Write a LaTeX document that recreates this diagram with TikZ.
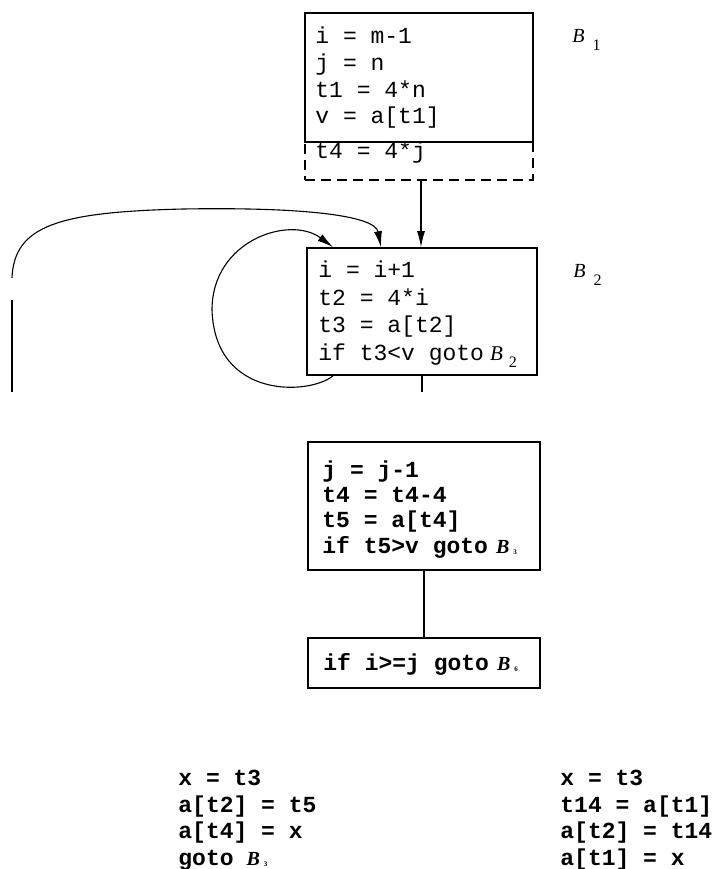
\documentclass[tikz,border=0pt]{standalone}
\usepackage{fontspec}
\setmainfont{Liberation Serif}
\setmonofont{Liberation Mono}
\usetikzlibrary{arrows.meta}
\newcommand{\lblB}[1]{{\rmfamily\itshape\fontsize{10}{12}\selectfont B}\hspace{4pt}\raisebox{-4pt}{\rmfamily\fontsize{8}{8}\selectfont #1}}
\newcommand{\inB}[1]{\hspace{3pt}{\rmfamily\itshape\fontsize{10.5}{12}\selectfont B}\hspace{3pt}\raisebox{-3.5pt}{\rmfamily\fontsize{8}{8}\selectfont #1}}
\newcommand{\bldB}[2]{\hspace{#2}{\rmfamily\bfseries\itshape\fontsize{10}{12}\selectfont B}\hspace{2pt}\raisebox{-0.5pt}{\rmfamily\fontsize{3.5}{4}\selectfont #1}}
\begin{document}
\begin{tikzpicture}[x=0.5pt,y=-0.5pt,
  box/.style={draw, line width=0.8pt, inner sep=0pt},
  dbox/.style={draw, dashed, dash pattern=on 5pt off 3pt, line width=0.6pt, inner sep=0pt},
  code/.style={anchor=base west, inner sep=0pt, font=\ttfamily\fontsize{11.5}{13}\selectfont},
  bcode/.style={anchor=base west, inner sep=0pt, font=\ttfamily\bfseries\fontsize{11.5}{13}\selectfont},
  lab/.style={anchor=base west, inner sep=0pt},
  conn/.style={line width=0.55pt},
  arr/.style={conn, -{Latex[length=8pt,width=4pt]}}]
\useasboundingbox[fill=white] (0,0) rectangle (712,869);

% B1 block
\node[dbox, minimum width=114pt, minimum height=19pt] (b1x) at (419,161) {};
\node[box, fill=white, minimum width=114pt, minimum height=64.5pt] (b1) at (419,77.5) {};
\node[code] (l11) at (315,43) {i = m-1};
\node[code] (l12) at (315,70) {j = n};
\node[code] (l13) at (315,97) {t1 = 4*n};
\node[code] (l14) at (315,123) {v = a[t1]};
\node[code] (l15) at (315,158) {t4 = 4*j};
\node[lab] (lb1) at (572,42) {\lblB{1}};

% B2 block
\node[box, minimum width=115pt, minimum height=63.5pt] (b2) at (422,311.5) {};
\node[code] (l21) at (318,277) {i = i+1};
\node[code] (l22) at (318,305) {t2 = 4*i};
\node[code] (l23) at (318,332) {t3 = a[t2]};
\node[code] (l24) at (318,360) {if t3<v goto\inB{2}};
\node[lab] (lb2) at (573,277) {\lblB{2}};

% B3 block
\node[box, minimum width=116pt, minimum height=64pt] (b3) at (424,506) {};
\node[bcode] (l31) at (322,477) {j = j-1};
\node[bcode] (l32) at (322,502) {t4 = t4-4};
\node[bcode] (l33) at (322,527) {t5 = a[t4]};
\node[bcode] (l34) at (322,553) {if t5>v goto\bldB{3}{4pt}};

% B4 block
\node[box, minimum width=116pt, minimum height=25pt] (b4) at (424,663) {};
\node[bcode] (l41) at (323,670) {if i>=j goto\bldB{6}{4pt}};

% bottom code
\node[bcode] (p1) at (178,785) {x = t3};
\node[bcode] (p2) at (178,812) {a[t2] = t5};
\node[bcode] (p3) at (178,838) {a[t4] = x};
\node[bcode] (p4) at (178,865) {goto\bldB{3}{6.5pt}};
\node[bcode] (q1) at (560,785) {x = t3};
\node[bcode] (q2) at (560,812) {t14 = a[t1]};
\node[bcode] (q3) at (560,838) {a[t2] = t14};
\node[bcode] (q4) at (560,865) {a[t1] = x};

% connectors
\coordinate (cA) at (421,0);
\coordinate (cB) at (381,0);
\coordinate (cC) at (333,0);
\coordinate (cD) at (422,0);
\coordinate (s1) at (12,278);
\coordinate (s2) at (12,300);
\coordinate (s3) at (12,392);
\coordinate (s4) at (422,392);

\draw[arr] (b1x.south -| cA) -- (b2.north -| cA);
\draw[arr] (s1) .. controls (14,225) and (60,212) .. (183,209)
  .. controls (300,207) and (375,215) .. (b2.north -| cB);
\draw[arr] (b2.south -| cC) .. controls (310,395) and (215,400) .. (212,310)
  .. controls (212,240) and (290,215) .. (b2.north -| cC);
\draw[conn] (s2) -- (s3);
\draw[conn] (b2.south -| cD) -- (s4);
\draw[conn] (b3.south) -- (b4.north);
\end{tikzpicture}
\end{document}
